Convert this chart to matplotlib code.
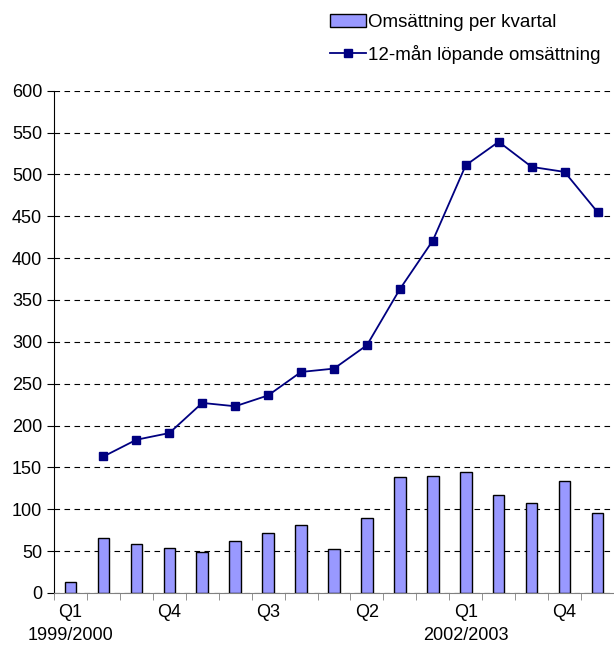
import numpy as np
import matplotlib
matplotlib.use("Agg")
import matplotlib.pyplot as plt

plt.rcParams['font.family'] = ['Liberation Sans', 'DejaVu Sans']

# quarterly turnover (bars) and rolling 12-month turnover (line)
tick_labels = ["Q1\n1999/2000", "Q4", "Q3", "Q2", "Q1\n2002/2003", "Q4"]
tick_pos = [0, 3, 6, 9, 12, 15]
kvartal = [13, 66, 58, 54, 49, 62, 71, 81, 53, 90, 138, 140, 144, 117, 108, 134, 96]
rullande = [163, 183, 191, 227, 223, 236, 264, 268, 296, 363, 421, 511, 539, 509, 503, 455]

x = np.arange(len(kvartal))

fig = plt.figure(figsize=(6.14, 6.48), dpi=100)
ax = fig.add_axes([0.088, 0.085, 0.912, 0.775])

bars = ax.bar(x, kvartal, width=0.35, color="#9999ff", edgecolor="black", linewidth=1.0,
              zorder=3, label="Omsättning per kvartal")
line, = ax.plot(x[1:], rullande, color="#000080", lw=1.3, marker="s", markersize=6,
                zorder=4, label="12-mån löpande omsättning")

ax.set_xlim(-0.5, len(kvartal) - 0.5)
ax.set_ylim(0, 600)
ax.set_yticks(range(0, 601, 50))
ax.yaxis.grid(True, linestyle=(0, (5, 4)), color="black", linewidth=0.8)
ax.set_axisbelow(True)

ax.set_xticks(tick_pos)
ax.set_xticklabels(tick_labels)
ax.set_xticks(np.arange(-0.5, len(kvartal), 1), minor=True)
ax.tick_params(axis="x", which="major", length=0, pad=8, labelsize=13)
ax.tick_params(axis="x", which="minor", length=5, color="#808080", direction="out")
ax.tick_params(axis="y", length=5, direction="out", labelsize=13)
for lbl in ax.get_xticklabels():
    lbl.set_multialignment("center")
    lbl.set_linespacing(1.45)

ax.spines["top"].set_visible(False)
ax.spines["right"].set_visible(False)
ax.spines["bottom"].set_color("#808080")

fig.legend(handles=[bars, line], loc="upper left", bbox_to_anchor=(0.51, 1.005),
           frameon=False, fontsize=13.5, handlelength=1.9, labelspacing=0.75,
           handletextpad=0.15, handleheight=0.7)

fig.savefig("out.png", dpi=100)
